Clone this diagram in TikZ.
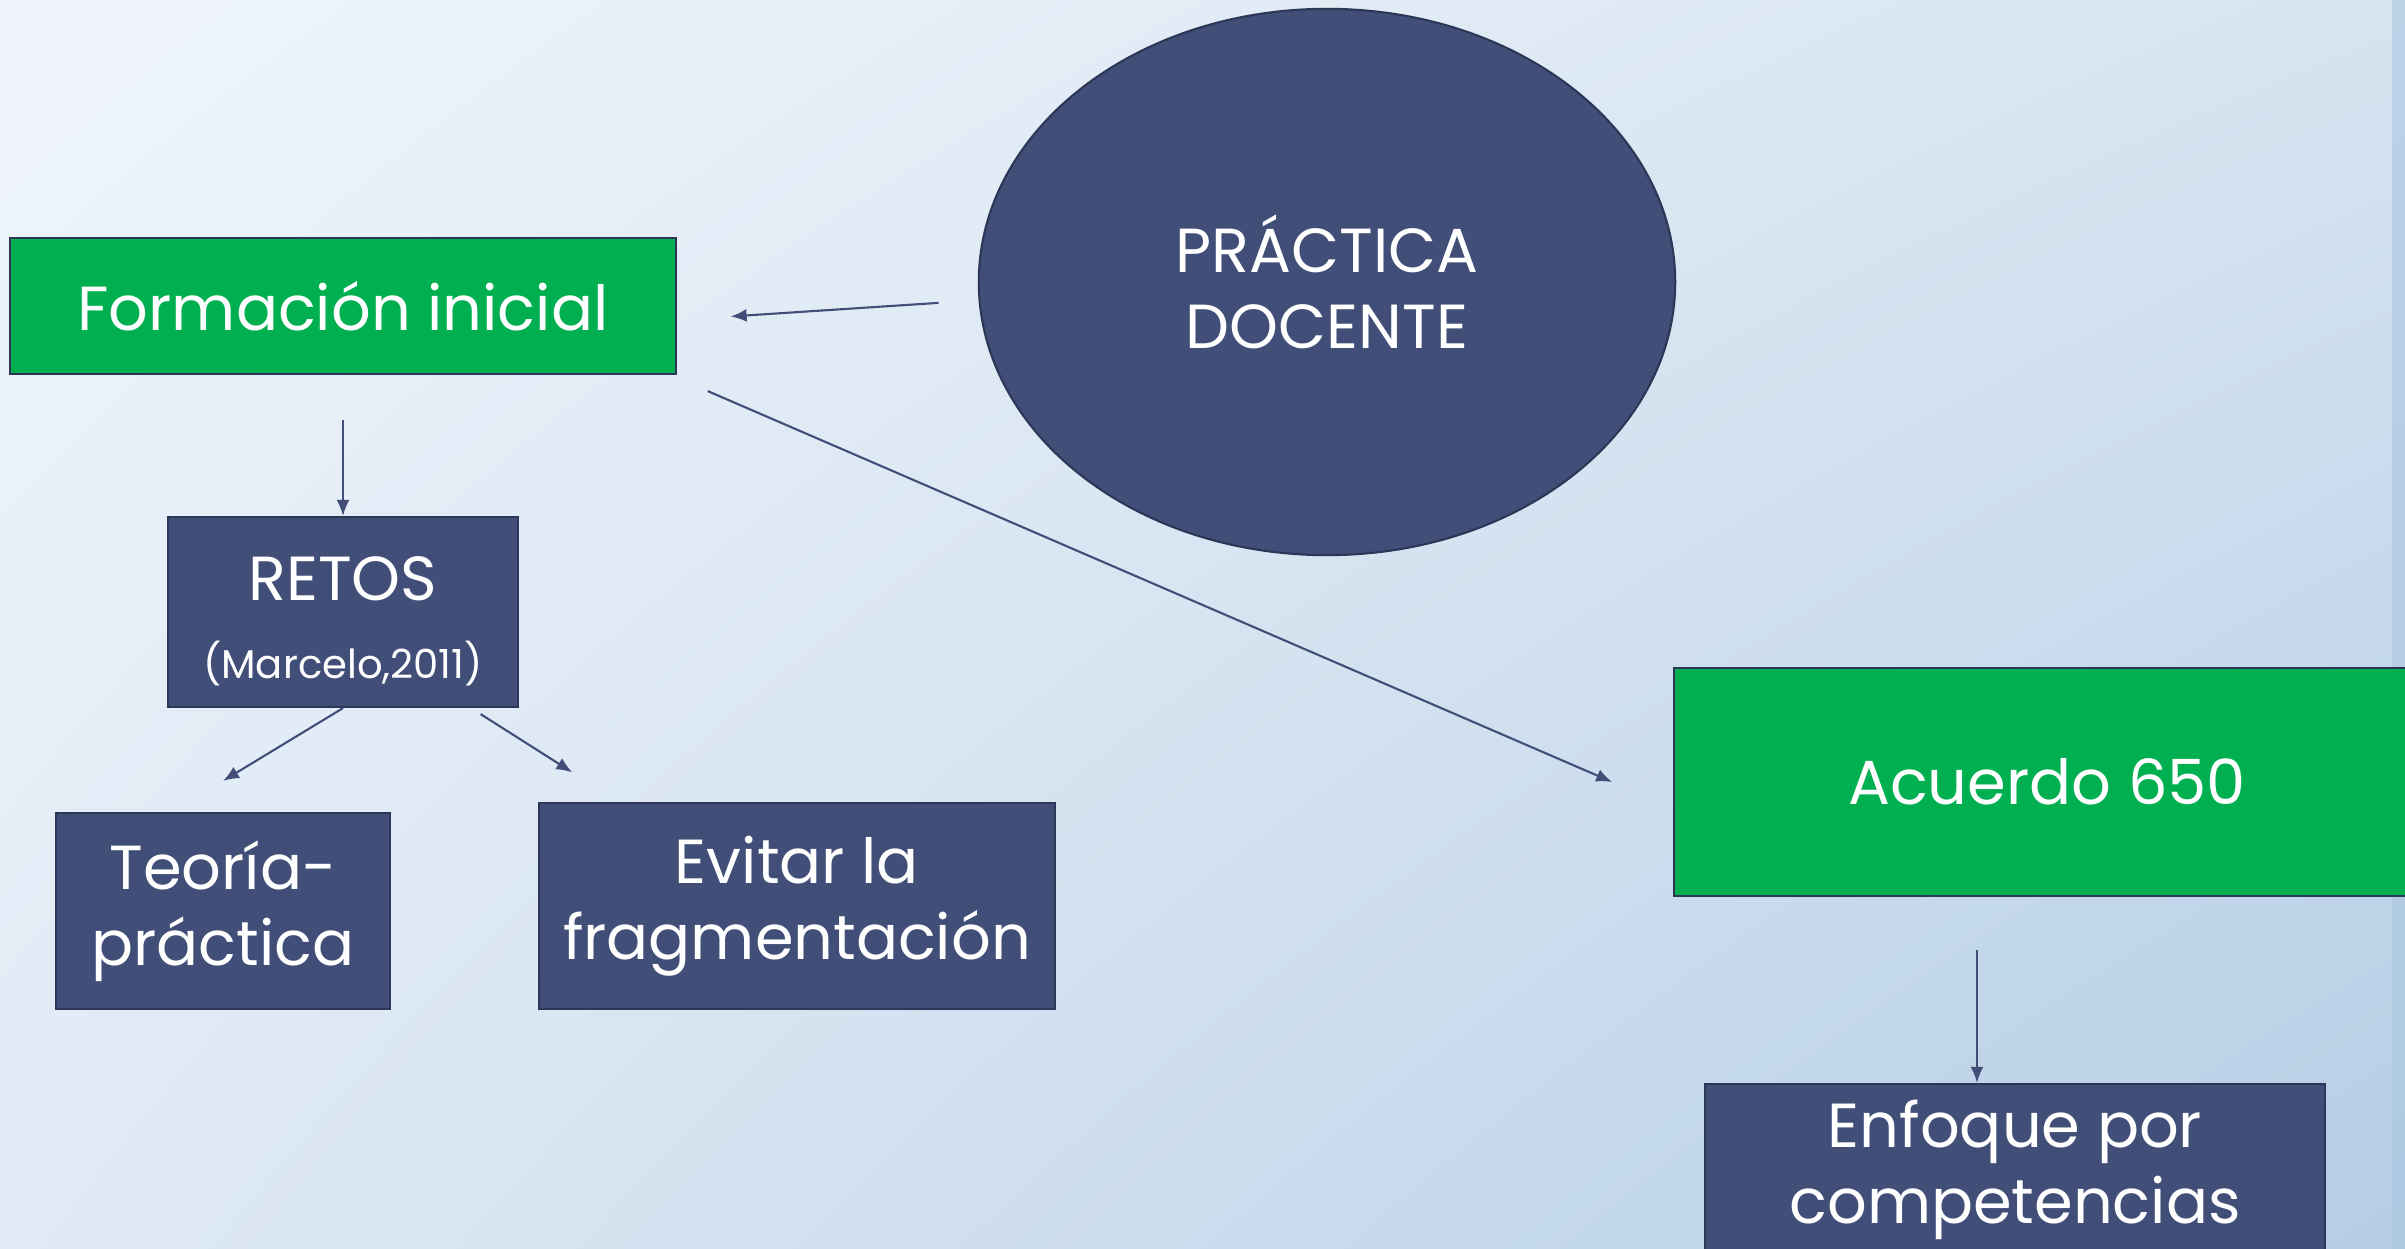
\documentclass[tikz,border=0pt]{standalone}
\usepackage{fontspec}
\setmainfont{Poppins}
\usetikzlibrary{arrows.meta,shapes.geometric,shadings}
\definecolor{navy}{RGB}{65,78,120}
\definecolor{leaf}{RGB}{0,176,80}
\definecolor{edge}{RGB}{44,55,88}
\definecolor{bgtl}{RGB}{240,245,251}
\definecolor{bgtr}{RGB}{214,228,241}
\definecolor{bgbl}{RGB}{224,234,245}
\definecolor{bgbr}{RGB}{180,205,229}
\definecolor{strip}{RGB}{170,198,225}

\begin{document}
\begin{tikzpicture}[x=0.01cm,y=-0.01cm]
\tikzstyle{every node}+=[inner sep=0pt, text=white, align=center, font=\fontsize{17.7}{21.6}\selectfont]
\tikzstyle{greenbox}=[rectangle, draw=edge, line width=0.6pt, fill=leaf]
\tikzstyle{bluebox}=[rectangle, draw=edge, line width=0.6pt, fill=navy]
\tikzstyle{arr}=[-{Latex[length=0.16cm,width=0.13cm]}, draw=navy, line width=0.6pt]
\useasboundingbox (0,0) rectangle (2405,1249);
\begin{scope}
\clip (0,0) rectangle (2405,1249);
% background
\shade[upper left=bgtl, upper right=bgtr, lower left=bgbl, lower right=bgbr] (0,0) rectangle (2405,1249);
\fill[strip, opacity=0.6] (2392,0) rectangle (2405,1249);
% nodes
\node[greenbox, minimum width=6.65cm, minimum height=1.36cm] (form) at (343,306) {Formación inicial};
\node[ellipse, draw=edge, line width=0.6pt, fill=navy, minimum width=6.96cm, minimum height=5.46cm] (prac) at (1327,282) {PRÁCTICA\\DOCENTE};
\node[bluebox, minimum width=3.49cm, minimum height=1.90cm] (retos) at (343,612) {\rule{0pt}{0.62cm}RETOS\\[0.02cm]{\fontsize{11.4}{13}\selectfont (Marcelo,2011)}};
\node[bluebox, minimum width=3.33cm, minimum height=1.96cm] (teoria) at (223,911) {Teoría-\\práctica};
\node[bluebox, minimum width=5.15cm, minimum height=2.05cm] (evitar) at (797,906) {Evitar la\\fragmentación};
\node[greenbox, minimum width=7.45cm, minimum height=2.27cm] (acuerdo) at (2047,782) {Acuerdo 650};
\node[bluebox, minimum width=6.19cm, minimum height=1.72cm] (enfoque) at (2015,1170) {Enfoque por\\competencias};
\coordinate (e1) at ([xshift=-0.38cm]enfoque.north);
% connectors
\draw[arr, shorten <=0.4cm, shorten >=0.54cm] (prac.183) -- ([yshift=-0.14cm]form.east);
\draw[arr, shorten <=0.45cm] (form.south) -- (retos.north);
\draw[arr] (retos.south) -- ([yshift=0.31cm]teoria.north);
\draw[arr] ([xshift=-0.38cm,yshift=-0.06cm]retos.south east) -- ([xshift=0.34cm,yshift=0.3cm]evitar.north west);
\draw[arr] ([xshift=0.31cm,yshift=-0.16cm]form.south east) -- ([xshift=-0.61cm]acuerdo.west);
\draw[arr, shorten <=0.53cm] (e1 |- acuerdo.south) -- (e1);
\end{scope}
\end{tikzpicture}
\end{document}
